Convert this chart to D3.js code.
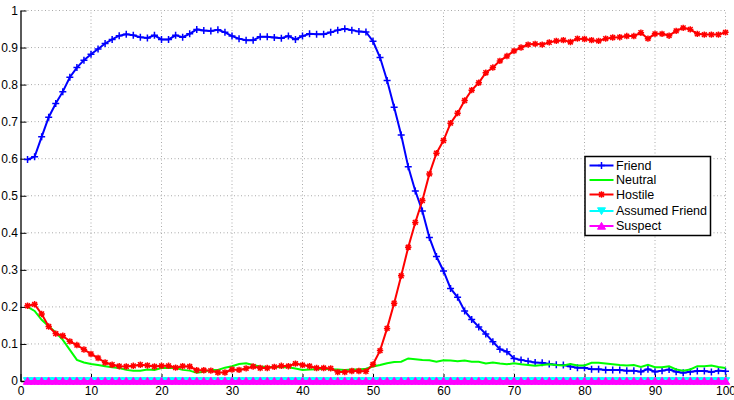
<!DOCTYPE html>
<html><head><meta charset="utf-8">
<script src="https://cdn.jsdelivr.net/npm/d3@7"></script>
<style>body{margin:0;background:#fff}svg{display:block}text{font-family:"Liberation Sans",Arial,Helvetica,sans-serif}</style>
</head><body><svg id="c" width="734" height="400"></svg>
<script>
const xValues = d3.range(1, 101);
const friend = [0.598,0.605,0.659,0.712,0.749,0.781,0.820,0.846,0.866,0.882,
0.896,0.911,0.922,0.932,0.936,0.933,0.928,0.926,0.933,0.922,
0.922,0.933,0.928,0.937,0.949,0.946,0.945,0.948,0.941,0.931,
0.924,0.920,0.920,0.929,0.929,0.927,0.925,0.931,0.922,0.931,
0.937,0.936,0.936,0.941,0.947,0.951,0.947,0.943,0.942,0.917,
0.873,0.811,0.739,0.664,0.578,0.513,0.459,0.387,0.336,0.297,
0.250,0.226,0.189,0.166,0.146,0.127,0.106,0.086,0.079,0.061,
0.057,0.053,0.050,0.049,0.046,0.044,0.043,0.039,0.036,0.036,
0.032,0.032,0.030,0.030,0.030,0.028,0.028,0.025,0.032,0.025,
0.028,0.031,0.025,0.022,0.025,0.027,0.027,0.024,0.028,0.026];
const neutral = [0.200,0.189,0.165,0.148,0.131,0.111,0.084,0.057,0.050,0.046,
0.043,0.040,0.037,0.035,0.030,0.028,0.028,0.031,0.030,0.035,
0.036,0.035,0.030,0.028,0.022,0.025,0.030,0.030,0.036,0.040,
0.046,0.048,0.043,0.039,0.038,0.038,0.037,0.037,0.034,0.030,
0.031,0.032,0.033,0.032,0.031,0.030,0.031,0.031,0.033,0.039,
0.043,0.048,0.051,0.052,0.061,0.059,0.057,0.056,0.052,0.056,
0.055,0.053,0.055,0.052,0.052,0.047,0.050,0.047,0.045,0.048,
0.045,0.043,0.041,0.043,0.045,0.043,0.042,0.046,0.042,0.042,
0.049,0.049,0.047,0.045,0.043,0.042,0.043,0.038,0.044,0.037,
0.037,0.040,0.031,0.028,0.031,0.040,0.040,0.042,0.038,0.035];
const hostile = [0.203,0.207,0.181,0.147,0.128,0.122,0.107,0.097,0.085,0.073,
0.062,0.050,0.044,0.040,0.039,0.041,0.044,0.042,0.039,0.041,
0.041,0.036,0.040,0.039,0.029,0.029,0.028,0.023,0.023,0.031,
0.030,0.034,0.039,0.035,0.035,0.038,0.041,0.040,0.047,0.043,
0.040,0.035,0.035,0.034,0.024,0.024,0.027,0.027,0.026,0.045,
0.082,0.142,0.210,0.284,0.361,0.428,0.487,0.559,0.615,0.649,
0.696,0.723,0.757,0.785,0.805,0.832,0.846,0.864,0.877,0.891,
0.900,0.908,0.910,0.908,0.914,0.918,0.920,0.915,0.924,0.923,
0.920,0.918,0.924,0.927,0.928,0.931,0.931,0.940,0.924,0.937,
0.937,0.932,0.945,0.953,0.949,0.937,0.935,0.935,0.935,0.941];
const assumedFriend = xValues.map(() => 0);
const suspect = xValues.map(() => 0);
const seriesNames = ["Friend","Neutral","Hostile","Assumed Friend","Suspect"];
const xTicks = [0,10,20,30,40,50,60,70,80,90,100];
const yTicks = [0,0.1,0.2,0.3,0.4,0.5,0.6,0.7,0.8,0.9,1];

const svg = d3.select("#c");
const x = d3.scaleLinear().domain([0,100]).range([20.5,725.5]);
const y = d3.scaleLinear().domain([0,1]).range([381,10.5]);

// grid
const g = svg.append("g");
g.selectAll(".vg").data(xTicks.slice(1)).join("line")
 .attr("x1",d=>x(d)).attr("x2",d=>x(d)).attr("y1",y(0)).attr("y2",y(1))
 .attr("stroke","#aaa").attr("stroke-width",1).attr("stroke-dasharray","1,2.5");
g.selectAll(".hg").data(yTicks.slice(1)).join("line")
 .attr("x1",x(0)).attr("x2",x(100)).attr("y1",d=>y(d)).attr("y2",d=>y(d))
 .attr("stroke","#aaa").attr("stroke-width",1).attr("stroke-dasharray","1,2.5");

// axes
const xAxis = d3.axisBottom(x).tickValues(xTicks).tickFormat(d3.format("d")).tickSizeInner(-7).tickSizeOuter(0).tickPadding(5);
const yAxis = d3.axisLeft(y).tickValues(yTicks).tickFormat(d=>d===0?"0":d===1?"1":d3.format(".1f")(d)).tickSizeInner(-6).tickSizeOuter(0).tickPadding(2.5);
const xa = svg.append("g").attr("transform",`translate(0,${y(0)})`).call(xAxis);
const ya = svg.append("g").attr("transform",`translate(${x(0)},0)`).call(yAxis);
[xa,ya].forEach(a=>{a.select(".domain").attr("stroke","#000").attr("stroke-width",1.3);
 a.selectAll(".tick line").attr("stroke","#000");
 a.selectAll("text").attr("font-size",12).attr("fill","#000");});

const plusPath = s => `M${-s},0L${s},0M0,${-s}L0,${s}`;
const starPath = s => { const t=s*0.75; return `M${-s},0L${s},0M0,${-s}L0,${s}M${-t},${-t}L${t},${t}M${-t},${t}L${t},${-t}`; };
const triDown = s => `M${-s},${-s*0.8}L${s},${-s*0.8}L0,${s*0.9}Z`;
const triUp = s => `M${-s},${s*0.8}L${s},${s*0.8}L0,${-s*0.9}Z`;

const series = [
 {name:seriesNames[0], data:friend, color:"#0000ff", marker:plusPath, size:3.5, fill:false},
 {name:seriesNames[1], data:neutral, color:"#00ff00", marker:null},
 {name:seriesNames[2], data:hostile, color:"#ff0000", marker:starPath, size:3.2, fill:false},
 {name:seriesNames[3], data:assumedFriend, color:"#00ffff", marker:triDown, size:4.2, fill:true},
 {name:seriesNames[4], data:suspect, color:"#ff00ff", marker:triUp, size:4.2, fill:true}
];
const line = d3.line().x((d,i)=>x(xValues[i])).y(d=>y(d));
const plot = svg.append("g");
series.forEach(s=>{
 plot.append("path").datum(s.data).attr("d",line).attr("fill","none").attr("stroke",s.color).attr("stroke-width",2);
 if(s.marker){
  plot.selectAll(null).data(s.data).join("path")
   .attr("transform",(d,i)=>`translate(${x(xValues[i])},${y(d)})`)
   .attr("d",s.marker(s.size))
   .attr("fill",s.fill?s.color:"none").attr("stroke",s.color).attr("stroke-width",s.fill?1:1.5);
 }
});

// legend
const lg = svg.append("g");
lg.append("rect").attr("x",585).attr("y",156.5).attr("width",125.5).attr("height",79)
 .attr("fill","#fff").attr("stroke","#000").attr("stroke-width",1.5);
series.forEach((s,i)=>{
 const yy = [165.5,180,194.5,211,226][i];
 lg.append("line").attr("x1",589.5).attr("x2",613.5).attr("y1",yy).attr("y2",yy).attr("stroke",s.color).attr("stroke-width",2);
 if(s.marker) lg.append("path").attr("transform",`translate(601.5,${yy})`).attr("d",s.marker(s.fill?4:s.size))
   .attr("fill",s.fill?s.color:"none").attr("stroke",s.color).attr("stroke-width",s.fill?1:1.5);
 lg.append("text").attr("x",616).attr("y",yy).attr("dy","0.35em").attr("font-size",12.5).text(s.name);
});
</script></body></html>
